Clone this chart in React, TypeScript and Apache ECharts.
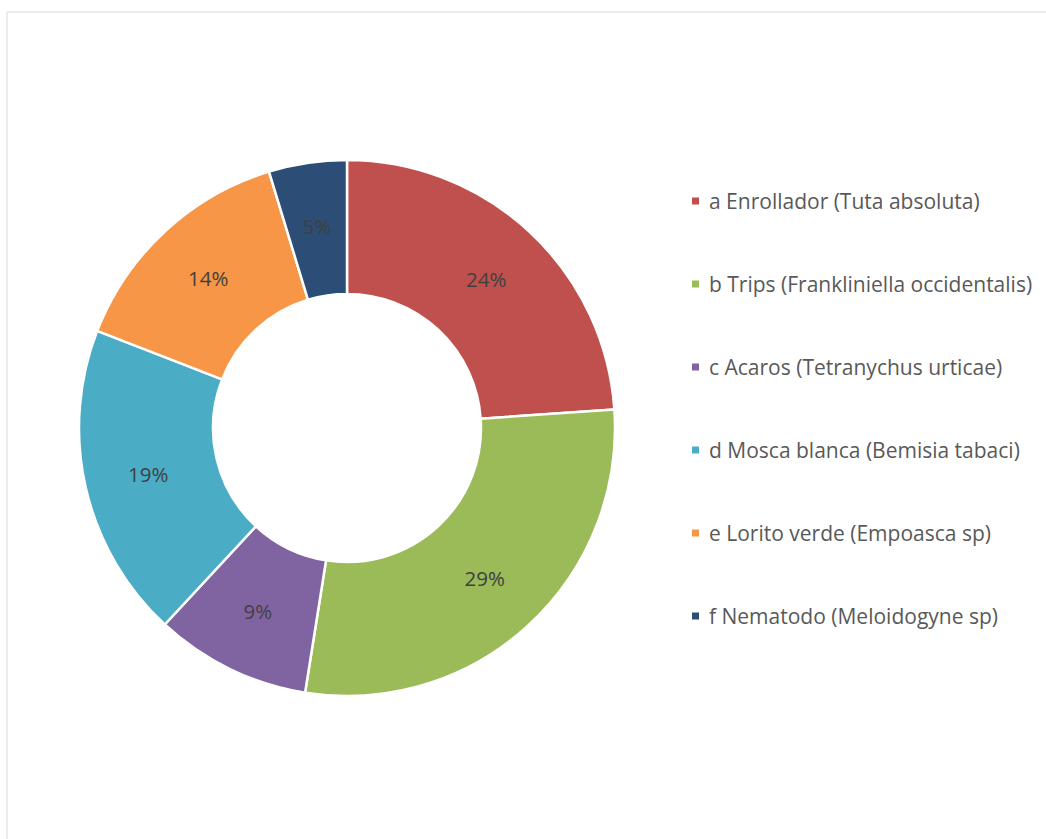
import React, { useEffect, useRef } from "react";
import * as echarts from "echarts";

const categories = [
  "a Enrollador (Tuta absoluta)",
  "b Trips (Frankliniella occidentalis)",
  "c Acaros (Tetranychus urticae)",
  "d Mosca blanca (Bemisia tabaci)",
  "e Lorito verde (Empoasca sp)",
  "f Nematodo (Meloidogyne sp)",
];
const values = [23.9, 28.6, 9.4, 19.0, 14.4, 4.7];
const colors = ["#C0504D", "#9BBB59", "#8064A2", "#4BACC6", "#F79646", "#2C4D75"];

export default function App() {
  const ref = useRef<HTMLDivElement>(null);
  useEffect(() => {
    if (!ref.current) return;
    const chart = echarts.init(ref.current, null, { renderer: "svg" });
    chart.setOption({
      animation: false,
      backgroundColor: "#ffffff",
      color: colors,
      graphic: [
        {
          type: "rect",
          shape: { x: 7, y: 12, width: 1100, height: 900 },
          style: { fill: "none", stroke: "#D9D9D9", lineWidth: 1 },
          silent: true,
        },
      ],
      legend: {
        orient: "vertical",
        left: 690,
        top: 190,
        padding: 0,
        itemWidth: 9,
        itemHeight: 9,
        itemGap: 61,
        icon: "rect",
        textStyle: {
          fontFamily: "Open Sans",
          fontSize: 21,
          color: "#595959",
          lineHeight: 22,
          padding: [0, 0, 0, 4],
        },
        data: categories,
      },
      series: [
        {
          type: "pie",
          center: [347, 428],
          radius: [134, 268],
          startAngle: 90,
          clockwise: true,
          avoidLabelOverlap: false,
          itemStyle: { borderColor: "#ffffff", borderWidth: 2.5 },
          label: {
            show: true,
            position: "inside",
            fontFamily: "Open Sans",
            fontSize: 20.5,
            color: "#404040",
            formatter: (p: any) => Math.round(p.percent) + "%",
          },
          labelLine: { show: false },
          emphasis: { disabled: true },
          data: categories.map((name, i) => ({ name, value: values[i] })),
        },
      ],
    });
    return () => chart.dispose();
  }, []);
  return (
    <div
      ref={ref}
      style={{ position: "absolute", left: 0, top: 0, width: 1046, height: 839 }}
    />
  );
}
